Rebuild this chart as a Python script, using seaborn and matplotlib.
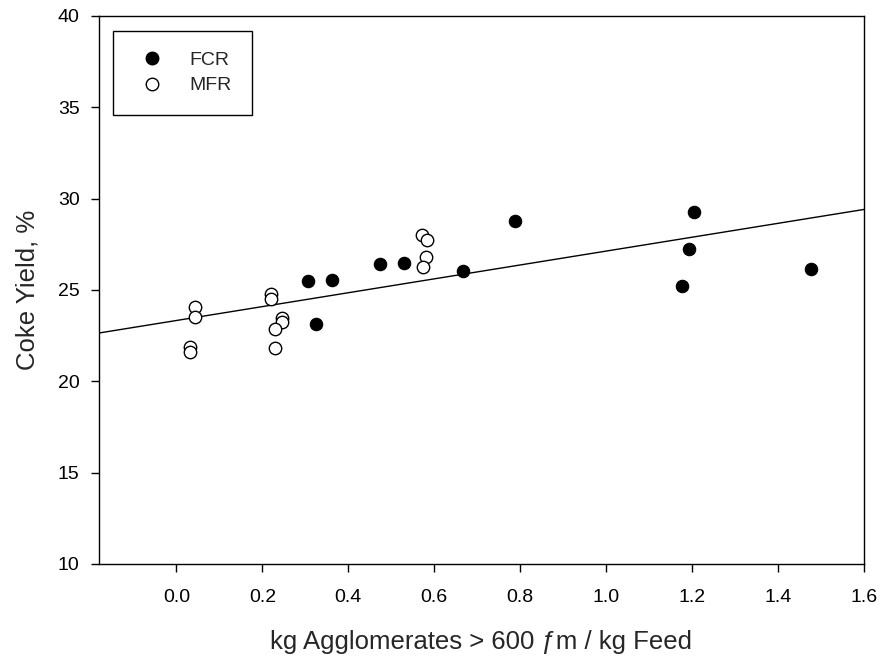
import numpy as np
import pandas as pd
import matplotlib
matplotlib.use("Agg")
import matplotlib.pyplot as plt
from matplotlib.lines import Line2D
import seaborn as sns

# FCR runs (filled symbols)
fcr_x = [0.307, 0.363, 0.473, 0.529, 0.668, 0.326, 0.788, 1.204, 1.192, 1.176, 1.477]
fcr_y = [25.50, 25.56, 26.44, 26.49, 26.05, 23.14, 28.79, 29.25, 27.22, 25.22, 26.16]

# MFR runs (open symbols)
mfr_x = [0.044, 0.044, 0.031, 0.031, 0.220, 0.220, 0.246, 0.246, 0.229, 0.229,
         0.581, 0.573, 0.572, 0.583]
mfr_y = [24.05, 23.54, 21.86, 21.60, 24.76, 24.49, 23.48, 23.23, 22.88, 21.84,
         26.82, 26.24, 28.01, 27.73]

# Linear fit through all runs
fit_slope = 3.80
fit_intercept = 23.33

x_ticks = [0.0, 0.2, 0.4, 0.6, 0.8, 1.0, 1.2, 1.4, 1.6]
y_ticks = [10, 15, 20, 25, 30, 35, 40]
x_range = (-0.18, 1.6)
y_range = (10, 40)

sns.set_style("ticks")
plt.rcParams["font.family"] = ["Liberation Sans", "DejaVu Sans"]

fcr = pd.DataFrame({"x": fcr_x, "y": fcr_y})
mfr = pd.DataFrame({"x": mfr_x, "y": mfr_y})

fig = plt.figure(figsize=(8.82, 6.58), dpi=100)
ax = fig.add_axes([99 / 882, 1 - 564 / 658, 765 / 882, 548 / 658])

fit_x = np.array(x_range)
fit = pd.DataFrame({"x": fit_x, "y": fit_intercept + fit_slope * fit_x})
sns.lineplot(data=fit, x="x", y="y", ax=ax, color="black", linewidth=1.0, zorder=2)

sns.scatterplot(data=fcr, x="x", y="y", ax=ax, color="black", edgecolor="black",
                s=80, linewidth=0.8, zorder=3)
sns.scatterplot(data=mfr, x="x", y="y", ax=ax, color="white", edgecolor="black",
                s=80, linewidth=1.0, zorder=3)

ax.set_xlim(*x_range)
ax.set_ylim(*y_range)
ax.set_xticks(x_ticks)
ax.set_xticklabels([f"{v:.1f}" for v in x_ticks])
ax.set_yticks(y_ticks)
ax.set_yticklabels([str(v) for v in y_ticks])

for side in ["left", "bottom", "right", "top"]:
    ax.spines[side].set_visible(True)
    ax.spines[side].set_linewidth(1.0)
    ax.spines[side].set_color("black")

ax.tick_params(axis="both", which="major", direction="out", length=6, width=1.0,
               labelsize=14, colors="black", top=False, right=False)
ax.tick_params(axis="x", pad=12)
ax.tick_params(axis="y", pad=8)

ax.set_xlabel("kg Agglomerates > 600 \u0192m / kg Feed", fontsize=18.5, labelpad=17)
ax.set_ylabel("Coke Yield, %", fontsize=18.5, labelpad=13)

handles = [
    Line2D([], [], linestyle="none", marker="o", markersize=9,
           markerfacecolor="black", markeredgecolor="black"),
    Line2D([], [], linestyle="none", marker="o", markersize=9,
           markerfacecolor="white", markeredgecolor="black", markeredgewidth=1.0),
]
leg = ax.legend(handles, ["FCR", "MFR"], loc="upper left",
                bbox_to_anchor=(0.0179, 0.9726), borderaxespad=0,
                fontsize=14, frameon=True, fancybox=False, framealpha=1,
                edgecolor="black", borderpad=1.05, handlelength=1.9,
                handletextpad=1.0, labelspacing=0.4)
leg.get_frame().set_linewidth(1.0)

fig.savefig("out.png", dpi=100, facecolor="white")
